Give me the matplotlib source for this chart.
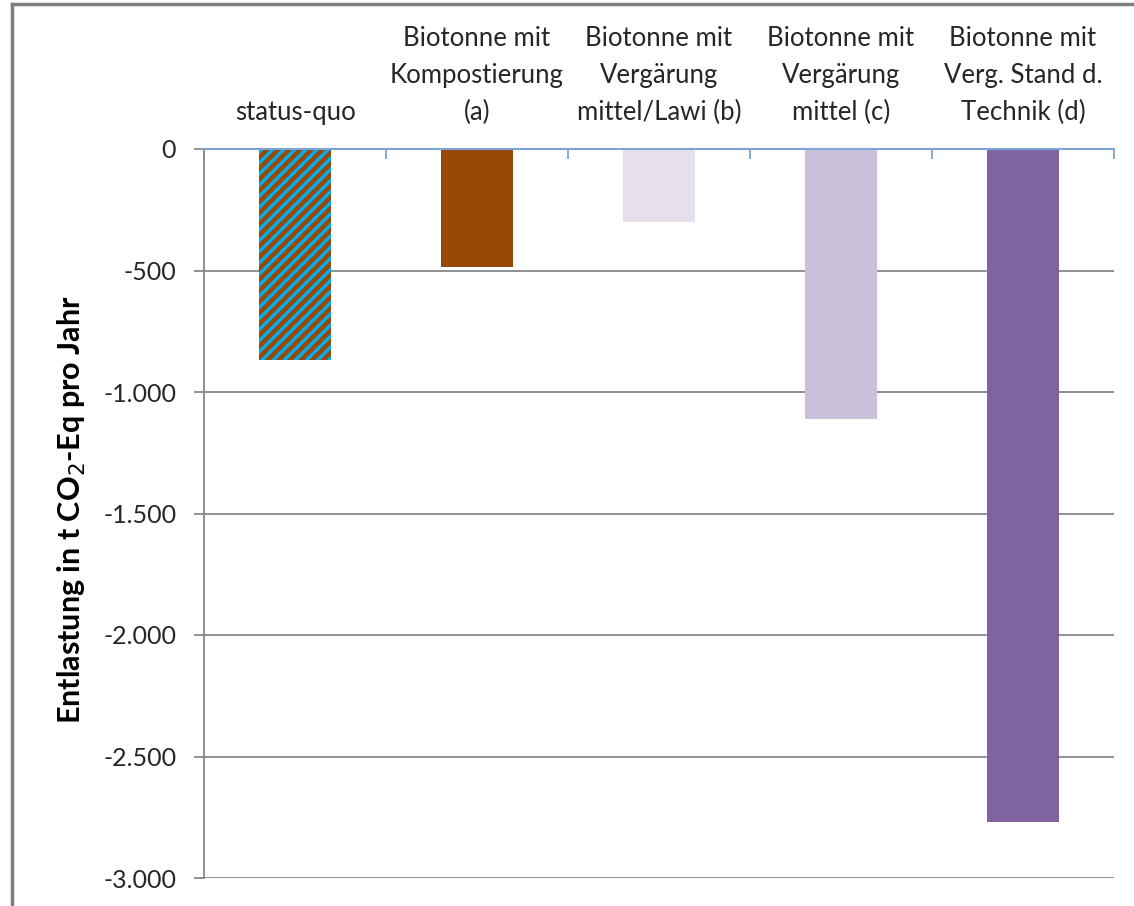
import matplotlib
matplotlib.use("Agg")
import matplotlib.pyplot as plt
from matplotlib.lines import Line2D

# Scenario labels and annual relief values (t CO2-Eq per year)
categories = [
    "status-quo",
    "Biotonne mit\nKompostierung\n(a)",
    "Biotonne mit\nVergärung\nmittel/Lawi (b)",
    "Biotonne mit\nVergärung\nmittel (c)",
    "Biotonne mit\nVerg. Stand d.\nTechnik (d)",
]
values = [-870, -485, -300, -1110, -2770]
bar_colors = ["#984807", "#984807", "#E6E0EC", "#CCC1DA", "#8064A2"]
bar_hatches = ["///", None, None, None, None]
yticks = [0, -500, -1000, -1500, -2000, -2500, -3000]
ytick_labels = ["0", "-500", "-1.000", "-1.500", "-2.000", "-2.500", "-3.000"]
ylabel = "Entlastung in t CO$_2$-Eq pro Jahr"

plt.rcParams["font.family"] = ["Lato", "DejaVu Sans"]
plt.rcParams["hatch.color"] = "#00B0F0"
plt.rcParams["hatch.linewidth"] = 2.4

W, H = 1134, 906
fig = plt.figure(figsize=(W / 100, H / 100), dpi=100)
ax = fig.add_axes([204 / W, 1 - 878 / H, (1114 - 204) / W, (878 - 149) / H])

text_color = "#262626"
grid_color = "#888888"
axis_blue = "#7FA3D4"

x = list(range(len(categories)))
for xi, v, c, h in zip(x, values, bar_colors, bar_hatches):
    ax.bar(xi, v, width=0.40, color=c, hatch=h,
           edgecolor=c if h is None else "#00B0F0", linewidth=0, zorder=3)

ax.set_xlim(-0.5, len(categories) - 0.5)
ax.set_ylim(-3000, 0)

# Horizontal gridlines and value axis
ax.set_yticks(yticks)
ax.set_yticklabels(ytick_labels, fontsize=18, color=text_color)
ax.yaxis.grid(True, color=grid_color, linewidth=1.3, zorder=1)
ax.tick_params(axis="y", length=7, width=1.3, color=grid_color, pad=13)

# Category axis sits at y=0 (top), with tick marks at category boundaries
ax.xaxis.tick_top()
ax.set_xticks([i - 0.5 for i in range(len(categories) + 1)])
ax.set_xticklabels([])
ax.tick_params(axis="x", direction="in", length=7, width=1.3, color=axis_blue,
               top=True, bottom=False)

for s in ["right", "bottom"]:
    ax.spines[s].set_visible(False)
ax.spines["top"].set_color(axis_blue)
ax.spines["top"].set_linewidth(1.5)
ax.spines["top"].set_zorder(4)
ax.spines["left"].set_color(grid_color)
ax.spines["left"].set_linewidth(1.3)

for xi, lab in zip(x, categories):
    ax.annotate(lab, xy=(xi, 1.0), xycoords=("data", "axes fraction"),
                xytext=(0, 17), textcoords="offset points",
                ha="center", va="bottom", fontsize=18.5, color=text_color,
                linespacing=1.6)

fig.text(72 / W, 1 - 510 / H, ylabel, rotation=90, ha="center", va="center",
         fontsize=22, fontweight="bold", color="black")

# Outer frame of the chart area
fig.add_artist(Line2D([12 / W, 12 / W], [0, 1 - 4 / H], transform=fig.transFigure,
                      color="#7F7F7F", linewidth=2.5))
fig.add_artist(Line2D([12 / W, 1], [1 - 4 / H, 1 - 4 / H], transform=fig.transFigure,
                      color="#7F7F7F", linewidth=2.5))

fig.savefig("out.png", dpi=100, facecolor="white")
